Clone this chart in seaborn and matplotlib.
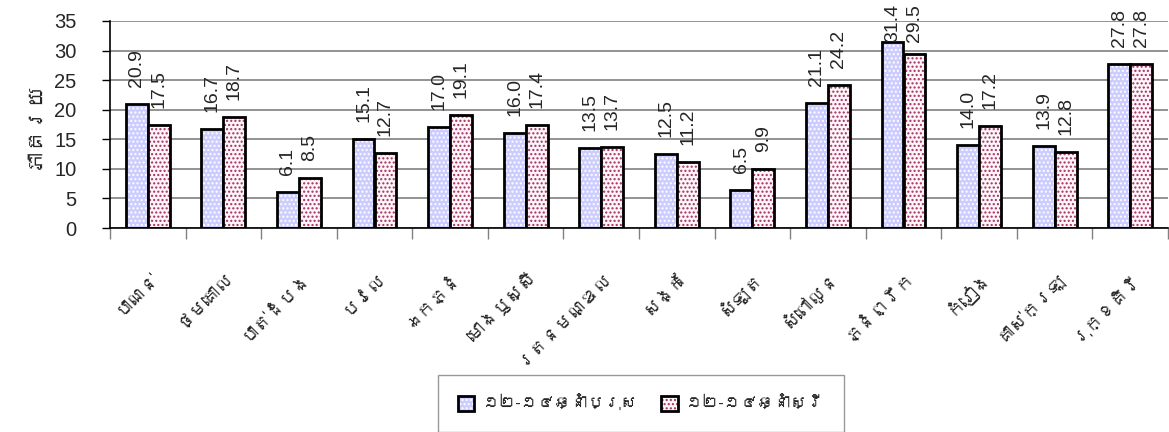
import pandas as pd
import matplotlib
matplotlib.use("Agg")
import matplotlib.pyplot as plt
import matplotlib.colors as mcolors
import matplotlib.transforms as mtransforms
from matplotlib import font_manager
from matplotlib.ft2font import FT2Font
import seaborn as sns

# districts and percentages
districts = ['បាណន់', 'ថ្មគោល', 'បាត់ដំបង', 'បវេល', 'ឯកភ្នំ', 'មោងឫស្សី', 'រតនមណ្ឌល',
             'សង្កែ', 'សំឡូត', 'សំពៅលូន', 'ភ្នំព្រឹក', 'កំរៀង', 'គាស់ក្រឡ', 'រុក្ខគិរី']
boys = [20.9, 16.7, 6.1, 15.1, 17.0, 16.0, 13.5, 12.5, 6.5, 21.1, 31.4, 14.0, 13.9, 27.8]
girls = [17.5, 18.7, 8.5, 12.7, 19.1, 17.4, 13.7, 11.2, 9.9, 24.2, 29.5, 17.2, 12.8, 27.8]
series = ['១២-១៤ឆ្នាំប្រុស', '១២-១៤ឆ្នាំស្រី']
y_label = 'ភាគរយ'

df = pd.DataFrame({
    'district': districts * 2,
    'value': boys + girls,
    'sex': [series[0]] * len(boys) + [series[1]] * len(girls),
})

sns.set_theme(style='white')

# look for anything that can draw Khmer, fall back to Liberation/DejaVu
khmer_fonts = []
for f in font_manager.fontManager.ttflist:
    try:
        if 0x1780 in FT2Font(f.fname).get_charmap() and f.name not in khmer_fonts:
            khmer_fonts.append(f.name)
    except Exception:
        pass
plt.rcParams['font.family'] = ['Liberation Sans'] + khmer_fonts + ['DejaVu Sans']

fig, ax = plt.subplots(figsize=(11.69, 4.32), dpi=100)
fig.subplots_adjust(left=110 / 1169, right=1168 / 1169, bottom=1 - 228 / 432, top=1 - 21 / 432)

sns.barplot(data=df, x='district', y='value', hue='sex', order=districts, hue_order=series,
            palette=['#ccccff', '#fff4f8'], width=0.58, saturation=1,
            edgecolor='black', linewidth=2, ax=ax, legend=True)

# dotted fills like the original
dot_colors = ['#ffffff', '#a03060']


def dot(p, dc):
    p.set_hatch('....')
    p._hatch_color = mcolors.to_rgba(dc)


for cont, dc in zip(ax.containers, dot_colors):
    for p in cont:
        dot(p, dc)

ax.set_ylim(0, 35)
ax.set_xlim(-0.5, len(districts) - 0.5)
ax.set_yticks(range(0, 36, 5))
ax.yaxis.grid(True, color='#808080', linewidth=1.2)
ax.set_axisbelow(True)
sns.despine(ax=ax, top=True, right=True)
for s in ['left', 'bottom']:
    ax.spines[s].set_color('black')
    ax.spines[s].set_linewidth(1.2)

ax.tick_params(axis='y', labelsize=14.5, length=6, width=1, left=True, color='black', pad=18)
ax.set_xticks([i - 0.5 for i in range(len(districts) + 1)], minor=True)
ax.tick_params(axis='x', which='minor', length=8, width=1, bottom=True, color='#808080')
ax.tick_params(axis='x', which='major', length=0, pad=34, labelsize=13)
ax.set_xticks(range(len(districts)))
ax.set_xticklabels(districts, rotation=45, ha='right', rotation_mode='anchor', va='center')
shift = mtransforms.ScaledTranslation(6 / 72, 0, fig.dpi_scale_trans)
for lab in ax.get_xticklabels():
    lab.set_transform(lab.get_transform() + shift)

ax.set_xlabel('')
ax.set_ylabel(y_label, fontsize=16, fontweight='bold')
ax.yaxis.set_label_coords(-0.062, 0.5)

# value labels, squeezed down when they would run off the top
fig_h = fig.get_figheight() * fig.dpi
for cont in ax.containers:
    for p in cont:
        v = p.get_height()
        xc = p.get_x() + p.get_width() / 2
        top_px = fig_h - ax.transData.transform((xc, v))[1]
        off_px = max(0, min(17, top_px - 42))
        ax.annotate(f'{v:.1f}', (xc, v), xytext=(0, off_px * 72 / fig.dpi),
                    textcoords='offset points', rotation=90, ha='center', va='bottom',
                    fontsize=14, annotation_clip=False)

handles, labels = ax.get_legend_handles_labels()
ax.get_legend().remove()
for h, dc in zip(handles, dot_colors):
    h.set_edgecolor('black')
    h.set_linewidth(2)
    dot(h, dc)
fig.legend(handles, labels, loc='upper center', bbox_to_anchor=(641 / 1169, 1 - 375 / 432),
           ncol=2, fontsize=12, frameon=True, fancybox=False, edgecolor='#808080',
           borderpad=1.2, handlelength=1.0, handleheight=1.0, columnspacing=1.4,
           handletextpad=0.5, borderaxespad=0)

plt.savefig('out.png', dpi=100)
